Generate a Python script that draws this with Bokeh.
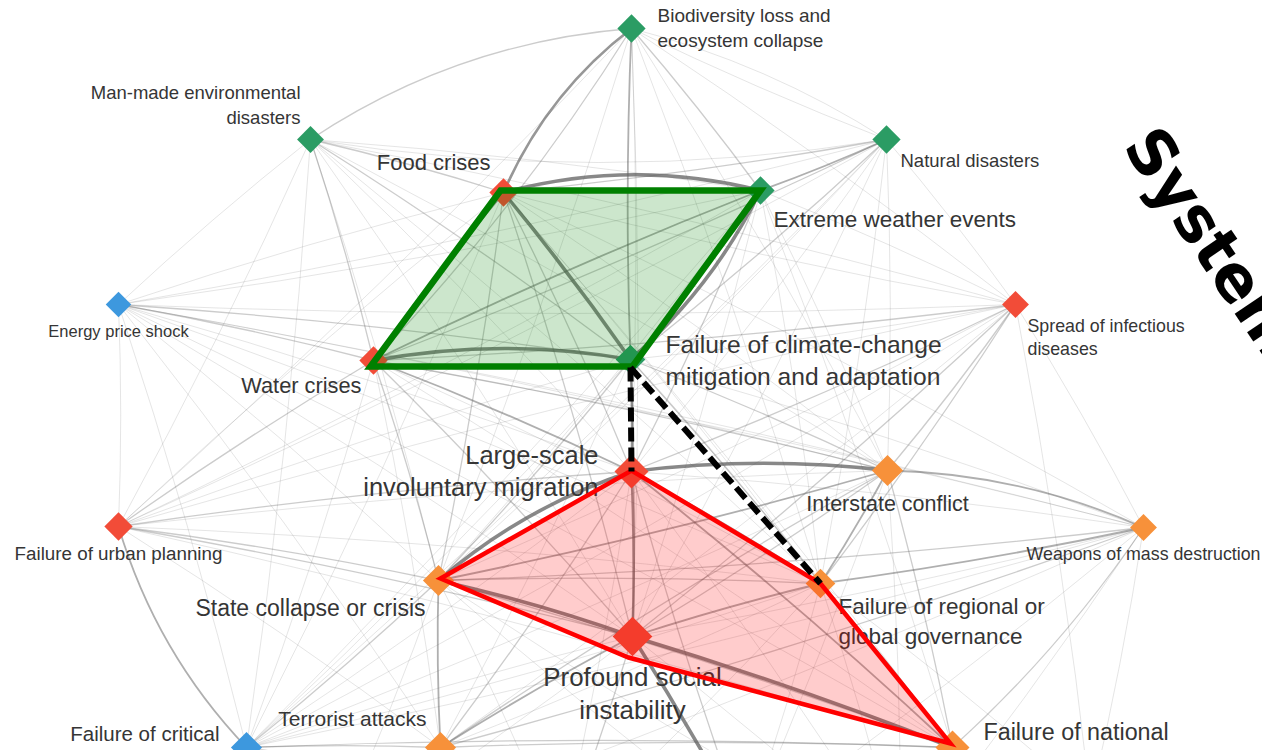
import math
from bokeh.plotting import figure
from bokeh.models import ColumnDataSource, Range1d, Label
from bokeh.core.properties import value
from bokeh.embed import file_html
from bokeh.resources import INLINE

# ---------------- data ----------------
keys = ["bio", "manmade", "natural", "food", "extreme", "energy", "spread", "water",
        "climate", "migration", "interstate", "weapons", "urban", "state", "regional",
        "social", "critical", "terror", "national", "unemp", "fiscal", "cyber", "illicit", "asset"]
risks = ["Biodiversity loss and ecosystem collapse", "Man-made environmental disasters",
         "Natural disasters", "Food crises", "Extreme weather events", "Energy price shock",
         "Spread of infectious diseases", "Water crises",
         "Failure of climate-change mitigation and adaptation",
         "Large-scale involuntary migration", "Interstate conflict",
         "Weapons of mass destruction", "Failure of urban planning", "State collapse or crisis",
         "Failure of regional or global governance", "Profound social instability",
         "Failure of critical infrastructure", "Terrorist attacks",
         "Failure of national governance", "Unemployment or underemployment", "Fiscal crises",
         "Cyberattacks", "Illicit trade", "Asset bubbles"]
category = ["environmental", "environmental", "environmental", "societal", "environmental",
            "economic", "societal", "societal", "environmental", "societal", "geopolitical",
            "geopolitical", "societal", "geopolitical", "geopolitical", "societal", "economic",
            "geopolitical", "geopolitical", "economic", "economic", "technological",
            "geopolitical", "economic"]
node_weight = [20, 19, 20, 20, 20, 18, 19, 20, 21, 24, 22, 19, 20, 22, 21, 28, 22, 22, 24,
               20, 20, 20, 20, 20]

# label lines (as printed on the map)
label_lines = {
    "bio": ["Biodiversity loss and", "ecosystem collapse"],
    "manmade": ["Man-made environmental", "disasters"],
    "natural": ["Natural disasters"],
    "food": ["Food crises"],
    "extreme": ["Extreme weather events"],
    "energy": ["Energy price shock"],
    "spread": ["Spread of infectious", "diseases"],
    "water": ["Water crises"],
    "climate": ["Failure of climate-change", "mitigation and adaptation"],
    "migration": ["Large-scale", "involuntary migration"],
    "interstate": ["Interstate conflict"],
    "weapons": ["Weapons of mass destruction"],
    "urban": ["Failure of urban planning"],
    "state": ["State collapse or crisis"],
    "regional": ["Failure of regional or", "global governance"],
    "social": ["Profound social", "instability"],
    "critical": ["Failure of critical"],
    "terror": ["Terrorist attacks"],
    "national": ["Failure of national"],
}

# interconnections: (source, target, strength 1..5)
links = [
    ("food", "extreme", 5), ("food", "bio", 4), ("food", "climate", 5), ("extreme", "climate", 5),
    ("water", "climate", 5), ("water", "food", 4), ("climate", "bio", 3), ("water", "extreme", 3),
    ("climate", "migration", 4), ("state", "migration", 5), ("migration", "interstate", 5),
    ("migration", "social", 4), ("state", "social", 5), ("social", "national", 5),
    ("social", "unemp", 5), ("interstate", "weapons", 3), ("critical", "urban", 3),
    ("manmade", "bio", 2), ("regional", "national", 3), ("migration", "regional", 3),
    ("migration", "national", 3), ("social", "regional", 3), ("state", "regional", 2),
    ("interstate", "regional", 3), ("weapons", "regional", 3), ("weapons", "state", 2),
    ("weapons", "national", 2), ("terror", "state", 3), ("terror", "social", 3),
    ("terror", "interstate", 2), ("natural", "extreme", 3), ("natural", "food", 2),
    ("natural", "water", 2), ("natural", "manmade", 1), ("natural", "climate", 2),
    ("natural", "bio", 1), ("spread", "water", 2), ("spread", "interstate", 2),
    ("spread", "social", 2), ("spread", "migration", 2), ("spread", "food", 1),
    ("spread", "climate", 1), ("energy", "water", 2), ("energy", "climate", 2),
    ("energy", "food", 1), ("energy", "state", 1), ("energy", "social", 1),
    ("energy", "interstate", 1), ("energy", "urban", 1), ("energy", "manmade", 1),
    ("energy", "critical", 1), ("urban", "water", 2), ("urban", "migration", 2),
    ("urban", "social", 2), ("urban", "state", 2), ("urban", "climate", 1), ("urban", "food", 1),
    ("urban", "spread", 1), ("manmade", "water", 2), ("manmade", "food", 2),
    ("manmade", "climate", 2), ("manmade", "extreme", 1), ("manmade", "migration", 1),
    ("manmade", "social", 1), ("bio", "extreme", 2), ("bio", "water", 2), ("bio", "natural", 1),
    ("bio", "migration", 1), ("bio", "spread", 1), ("food", "migration", 2), ("food", "social", 2),
    ("food", "state", 2), ("food", "interstate", 1), ("extreme", "migration", 2),
    ("extreme", "social", 1), ("extreme", "spread", 1), ("extreme", "critical", 1),
    ("climate", "interstate", 2), ("climate", "state", 2), ("climate", "social", 2),
    ("climate", "regional", 2), ("water", "migration", 3), ("water", "interstate", 2),
    ("water", "state", 2), ("water", "social", 2), ("migration", "terror", 2),
    ("migration", "weapons", 1), ("interstate", "state", 3), ("interstate", "national", 2),
    ("interstate", "social", 2), ("state", "national", 2), ("state", "critical", 2),
    ("regional", "terror", 1), ("critical", "national", 2), ("critical", "social", 1),
    ("critical", "terror", 2), ("terror", "national", 2), ("social", "fiscal", 2),
    ("social", "cyber", 1), ("national", "illicit", 2), ("state", "fiscal", 1),
    ("terror", "illicit", 2), ("critical", "cyber", 2), ("unemp", "migration", 2),
    ("unemp", "state", 1), ("fiscal", "national", 1), ("illicit", "state", 1),
    ("regional", "unemp", 1), ("national", "unemp", 2), ("weapons", "terror", 2),
    ("weapons", "cyber", 1), ("spread", "critical", 1), ("spread", "asset", 1),
    ("weapons", "asset", 1), ("regional", "asset", 1),
    ("natural", "spread", 1), ("natural", "energy", 1), ("natural", "urban", 1),
    ("natural", "interstate", 1), ("natural", "migration", 1), ("natural", "social", 1),
    ("natural", "critical", 1), ("natural", "state", 1), ("natural", "regional", 1),
    ("bio", "urban", 1), ("bio", "social", 1), ("bio", "interstate", 1), ("bio", "regional", 1),
    ("bio", "state", 1), ("manmade", "spread", 1), ("manmade", "urban", 1),
    ("manmade", "state", 1), ("manmade", "interstate", 1), ("manmade", "regional", 1),
    ("manmade", "critical", 1), ("food", "regional", 1), ("food", "national", 1),
    ("food", "weapons", 1), ("food", "critical", 1), ("extreme", "interstate", 1),
    ("extreme", "state", 1), ("extreme", "regional", 1), ("extreme", "urban", 1),
    ("extreme", "energy", 1), ("extreme", "national", 1), ("water", "regional", 1),
    ("water", "national", 1), ("water", "weapons", 1), ("water", "critical", 1),
    ("water", "terror", 1), ("climate", "weapons", 1), ("climate", "national", 1),
    ("climate", "critical", 1), ("climate", "terror", 1), ("spread", "state", 1),
    ("spread", "regional", 2), ("spread", "weapons", 1), ("spread", "terror", 1),
    ("spread", "energy", 1), ("energy", "migration", 1), ("energy", "regional", 1),
    ("energy", "national", 1), ("energy", "weapons", 1), ("energy", "terror", 1),
    ("urban", "interstate", 1), ("urban", "regional", 1), ("urban", "national", 1),
    ("urban", "terror", 1), ("migration", "critical", 1), ("migration", "fiscal", 1),
    ("migration", "illicit", 1), ("interstate", "critical", 1), ("interstate", "illicit", 1),
    ("interstate", "unemp", 1), ("weapons", "social", 1), ("weapons", "critical", 1),
    ("weapons", "unemp", 1), ("weapons", "illicit", 1), ("regional", "critical", 1),
    ("regional", "fiscal", 1), ("regional", "illicit", 1), ("social", "illicit", 1),
    ("state", "cyber", 1), ("terror", "cyber", 1), ("terror", "fiscal", 1), ("terror", "unemp", 1),
    ("national", "cyber", 1), ("national", "asset", 1), ("critical", "fiscal", 1),
    ("critical", "unemp", 1), ("critical", "illicit", 1),
]

# highlighted clusters and chains
cluster_environment = ["food", "extreme", "climate", "water"]
cluster_society = ["state", "migration", "regional", "national", "social"]
chain_links = [("climate", "migration"), ("climate", "regional")]
title_text = "Systemic"

# ---------------- layout (map positions) ----------------
layout = {
    "bio": (631, 28), "manmade": (310, 139), "natural": (886, 139), "food": (503, 192),
    "extreme": (760, 190), "energy": (118, 304), "spread": (1015, 304), "water": (373, 360),
    "climate": (630, 359), "migration": (631, 471), "interstate": (887, 470),
    "weapons": (1143, 527), "urban": (118, 526), "state": (438, 580), "regional": (820, 583),
    "social": (632, 636), "critical": (246, 747), "terror": (440, 747), "national": (952, 747),
    "unemp": (745, 830), "fiscal": (560, 845), "cyber": (330, 850), "illicit": (900, 860),
    "asset": (1090, 800),
}
# hand-drawn hull corners sit slightly off some node centres (pixels)
hull_shift = {"food": (-3, -2), "climate": (2, 7), "water": (-3, 6), "social": (-4, 21),
              "national": (-2, -4), "state": (2, -2), "migration": (0, -1)}
bends = {
    ("food", "extreme"): 0.13, ("food", "bio"): 0.13, ("extreme", "climate"): 0.10,
    ("water", "climate"): 0.09, ("state", "migration"): 0.10, ("migration", "interstate"): 0.06,
    ("interstate", "weapons"): 0.10, ("critical", "urban"): 0.12, ("manmade", "bio"): 0.13,
    ("natural", "manmade"): 0.08, ("bio", "natural"): 0.08, ("bio", "water"): 0.05,
    ("weapons", "national"): 0.06, ("state", "social"): 0.03, ("social", "national"): 0.02,
}
# label style: (dx, dy of first line centre, align, font px, line spacing)
label_style = {
    "bio": (26, -13, "left", 19, 25), "manmade": (-10, -47, "right", 18.5, 25),
    "natural": (14, 21, "left", 18.5, 0), "food": (-13, -30, "right", 22, 0),
    "extreme": (13, 29, "left", 22.5, 0), "energy": (0, 26, "center", 16.5, 0),
    "spread": (12, 21, "left", 17.8, 23), "water": (-12, 25, "right", 21.8, 0),
    "climate": (35, -15, "left", 24.6, 32), "migration": (-33, -17, "right", 25.5, 32),
    "interstate": (0, 33, "center", 21.5, 0), "weapons": (0, 26, "center", 17.8, 0),
    "urban": (0, 27, "center", 18.8, 0), "state": (-13, 27, "right", 23, 0),
    "regional": (18, 23, "left", 22.5, 30), "social": (0, 40, "center", 25.9, 33),
    "critical": (-27, -14, "right", 20.5, 0), "terror": (-14, -29, "right", 21, 0),
    "national": (31, -16, "left", 23.3, 0),
}
palette = {"environmental": "#2b9c64", "societal": "#f24c38", "economic": "#3d98de",
           "geopolitical": "#f7913a", "technological": "#8e5cb5"}
weight_width = {1: 1.0, 2: 1.3, 3: 1.8, 4: 2.6, 5: 3.6}
weight_alpha = {1: 0.16, 2: 0.32, 3: 0.5, 4: 0.65, 5: 0.75}
FONT = "Liberation Sans"

# ---------------- figure ----------------
p = figure(width=1262, height=750, x_range=Range1d(0, 1262), y_range=Range1d(750, 0),
           output_backend="svg", toolbar_location=None, min_border=0,
           x_axis_type=None, y_axis_type=None, outline_line_color=None,
           background_fill_color="white", border_fill_color="white")
p.grid.visible = False

# edges as quadratic curves
e = dict(x0=[], y0=[], x1=[], y1=[], cx=[], cy=[], w=[], a=[])
for s, t, wgt in links:
    x0, y0 = layout[s]
    x1, y1 = layout[t]
    k = bends.get((s, t), 0.02)
    dx, dy = x1 - x0, y1 - y0
    e["x0"].append(x0); e["y0"].append(y0); e["x1"].append(x1); e["y1"].append(y1)
    e["cx"].append((x0 + x1) / 2 + k * dy)
    e["cy"].append((y0 + y1) / 2 - k * dx)
    e["w"].append(weight_width[wgt]); e["a"].append(weight_alpha[wgt])
p.quadratic(x0="x0", y0="y0", x1="x1", y1="y1", cx="cx", cy="cy", source=ColumnDataSource(e),
            line_color="#606060", line_width="w", line_alpha="a")

# nodes
nodes = ColumnDataSource(dict(
    x=[layout[k][0] for k in keys], y=[layout[k][1] for k in keys],
    size=node_weight, color=[palette[c] for c in category], name=risks))
p.scatter(x="x", y="y", size="size", marker="square", angle=45, angle_units="deg",
          fill_color="color", line_color=None, source=nodes)

# labels
for k, lines in label_lines.items():
    dx, dy, align, fs, sp = label_style[k]
    x, y = layout[k]
    p.text(x=[x + dx] * len(lines), y=[y + dy + i * sp for i in range(len(lines))], text=lines,
           text_align=align, text_baseline="middle", text_font=value(FONT),
           text_font_size=f"{fs}px", text_color="#353535")


def hull(cluster):
    xs = [layout[k][0] + hull_shift.get(k, (0, 0))[0] for k in cluster]
    ys = [layout[k][1] + hull_shift.get(k, (0, 0))[1] for k in cluster]
    return xs, ys


# highlighted clusters
gx, gy = hull(cluster_environment)
p.patch(gx, gy, fill_color="green", fill_alpha=0.2, line_color="green", line_width=6.5,
        line_join="miter")
rx, ry = hull(cluster_society)
p.patch(rx, ry, fill_color="red", fill_alpha=0.2, line_color="red", line_width=4.5,
        line_join="miter")

# chain between clusters
p.segment(x0=[layout[a][0] for a, b in chain_links], y0=[layout[a][1] + 8 for a, b in chain_links],
          x1=[layout[b][0] for a, b in chain_links], y1=[layout[b][1] for a, b in chain_links],
          line_color="black", line_width=6, line_dash="14 6")

# title
p.add_layout(Label(x=1139, y=134, text=title_text, angle=-56, angle_units="deg",
                   text_font="DejaVu Sans", text_font_size="63px", text_font_style="bold",
                   text_color="black", text_align="left", text_baseline="alphabetic"))

open("out.html", "w").write(file_html(p, INLINE))
